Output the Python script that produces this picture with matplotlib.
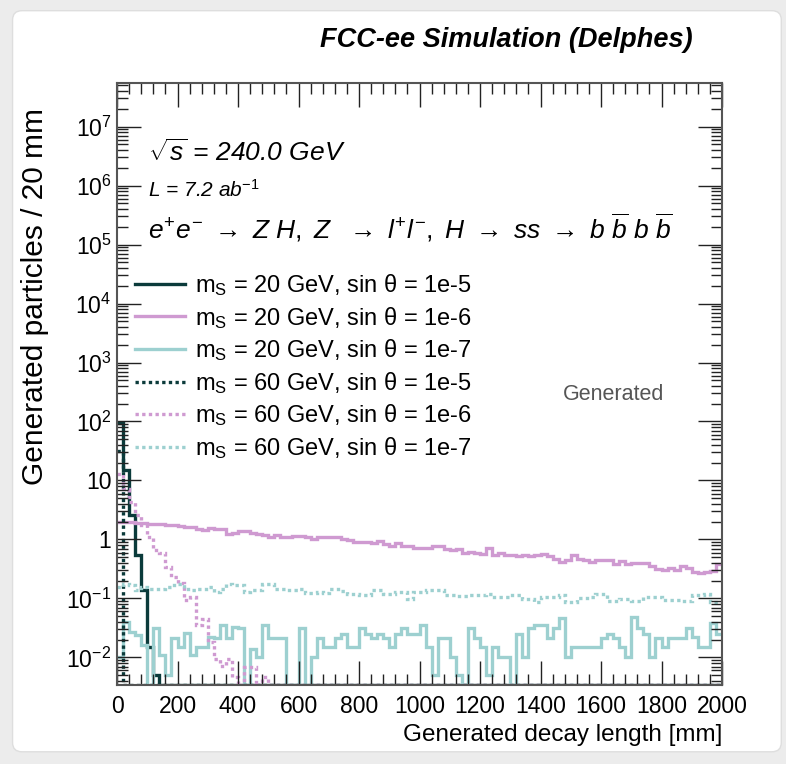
import numpy as np
import matplotlib
matplotlib.use('Agg')
import matplotlib.pyplot as plt
from matplotlib.patches import FancyBboxPatch
from matplotlib.ticker import LogLocator, FixedLocator, MultipleLocator, FuncFormatter, NullFormatter

plt.rcParams['font.family'] = ['Liberation Sans', 'DejaVu Sans']
plt.rcParams['mathtext.fontset'] = 'custom'
plt.rcParams['mathtext.rm'] = 'Liberation Sans'
plt.rcParams['mathtext.it'] = 'Liberation Sans:italic'
plt.rcParams['mathtext.bf'] = 'Liberation Sans:bold'

# decay length histogram, 20 mm bins from 0 to 2000 mm
bin_edges = np.arange(0, 2001, 20)

# m_S = 20 GeV, sin theta = 1e-5
ms20_s5 = [95, 14.8, 2.6, 0.55, 0.137, 0.0149, 0.005] + [0.0] * 93

# m_S = 20 GeV, sin theta = 1e-6
ms20_s6 = [1.95, 2.0, 1.95, 1.88, 1.88, 1.82, 1.82, 1.8, 1.78, 1.75,
           1.72, 1.62, 1.6, 1.48, 1.42, 1.55, 1.52, 1.5, 1.22, 1.3,
           1.38, 1.38, 1.3, 1.25, 1.2, 1.12, 1.2, 1.12, 1.12, 1.15,
           1.15, 1.12, 1.03, 1.08, 1.12, 1.1, 1.1, 1.0, 0.98, 0.92,
           0.92, 0.92, 0.88, 0.93, 0.85, 0.77, 0.88, 0.77, 0.77, 0.71,
           0.71, 0.71, 0.77, 0.77, 0.69, 0.65, 0.68, 0.59, 0.62, 0.6,
           0.57, 0.71, 0.55, 0.58, 0.55, 0.55, 0.52, 0.55, 0.52, 0.55,
           0.56, 0.53, 0.47, 0.41, 0.44, 0.55, 0.47, 0.45, 0.41, 0.44,
           0.44, 0.44, 0.38, 0.43, 0.39, 0.4, 0.4, 0.4, 0.35, 0.32,
           0.30, 0.33, 0.30, 0.35, 0.33, 0.28, 0.27, 0.28, 0.29, 0.39]

# m_S = 20 GeV, sin theta = 1e-7
ms20_s7 = [0.010, 0.040, 0.027, 0.024, 0.016, 0.0, 0.031, 0.011, 0.005, 0.021,
           0.015, 0.026, 0.011, 0.015, 0.015, 0.022, 0.021, 0.035, 0.021, 0.033,
           0.031, 0.0, 0.014, 0.010, 0.035, 0.021, 0.021, 0.021, 0.0, 0.0,
           0.031, 0.0, 0.010, 0.021, 0.015, 0.015, 0.021, 0.025, 0.015, 0.015,
           0.031, 0.025, 0.021, 0.025, 0.021, 0.015, 0.025, 0.031, 0.025, 0.025,
           0.035, 0.015, 0.005, 0.021, 0.021, 0.010, 0.005, 0.0, 0.031, 0.021,
           0.015, 0.005, 0.015, 0.010, 0.010, 0.0, 0.025, 0.010, 0.031, 0.035,
           0.035, 0.021, 0.031, 0.046, 0.010, 0.015, 0.015, 0.015, 0.015, 0.015,
           0.021, 0.025, 0.021, 0.015, 0.010, 0.048, 0.031, 0.025, 0.010, 0.021,
           0.015, 0.021, 0.021, 0.021, 0.031, 0.022, 0.015, 0.015, 0.038, 0.025]

# m_S = 60 GeV, sin theta = 1e-5
ms60_s5 = [31] + [0.0] * 99

# m_S = 60 GeV, sin theta = 1e-6
ms60_s6 = [13, 7.3, 4.3, 2.55, 1.73, 1.1, 0.65, 0.58, 0.34, 0.23,
           0.18, 0.093, 0.105, 0.035, 0.045, 0.018, 0.0095, 0.0071, 0.0093, 0.0047,
           0.0, 0.0068, 0.0068, 0.0, 0.0047] + [0.0] * 75

# m_S = 60 GeV, sin theta = 1e-7
ms60_s7 = [0.155, 0.177, 0.166, 0.137, 0.155, 0.146, 0.146, 0.146, 0.155, 0.166,
           0.177, 0.146, 0.137, 0.146, 0.146, 0.155, 0.128, 0.146, 0.177, 0.166,
           0.166, 0.128, 0.137, 0.137, 0.177, 0.177, 0.146, 0.146, 0.137, 0.137,
           0.146, 0.123, 0.123, 0.128, 0.123, 0.146, 0.146, 0.135, 0.12, 0.12,
           0.112, 0.112, 0.137, 0.137, 0.12, 0.12, 0.128, 0.128, 0.099, 0.128,
           0.128, 0.137, 0.137, 0.137, 0.112, 0.112, 0.108, 0.108, 0.112, 0.112,
           0.112, 0.12, 0.105, 0.105, 0.105, 0.112, 0.112, 0.099, 0.099, 0.087,
           0.105, 0.105, 0.105, 0.112, 0.087, 0.087, 0.103, 0.103, 0.105, 0.12,
           0.12, 0.092, 0.092, 0.099, 0.099, 0.09, 0.09, 0.105, 0.105, 0.105,
           0.095, 0.095, 0.095, 0.092, 0.092, 0.112, 0.112, 0.12, 0.087, 0.087]

series = [
    (ms20_s5, r'm$_{\mathrm{S}}$ = 20 GeV, sin θ = 1e-5', '#0b3b3b', '-'),
    (ms20_s6, r'm$_{\mathrm{S}}$ = 20 GeV, sin θ = 1e-6', '#cf9ad1', '-'),
    (ms20_s7, r'm$_{\mathrm{S}}$ = 20 GeV, sin θ = 1e-7', '#9dd0d0', '-'),
    (ms60_s5, r'm$_{\mathrm{S}}$ = 60 GeV, sin θ = 1e-5', '#0b3b3b', (0, (1, 1))),
    (ms60_s6, r'm$_{\mathrm{S}}$ = 60 GeV, sin θ = 1e-6', '#cf9ad1', (0, (1, 1))),
    (ms60_s7, r'm$_{\mathrm{S}}$ = 60 GeV, sin θ = 1e-7', '#9dd0d0', (0, (1, 1))),
]

ymin, ymax = 0.0034, 5.5e7
decades = 10.0 ** np.arange(-2, 8)

fig = plt.figure(figsize=(7.86, 7.64), dpi=100)
fig.patch.set_facecolor('#ececec')
# card look of the original screenshot
card = FancyBboxPatch((0.016, 0.016), 0.978, 0.97, boxstyle='round,pad=0,rounding_size=0.012',
                      transform=fig.transFigure, facecolor='white', edgecolor='#dedede', zorder=-1)
fig.add_artist(card)

ax = fig.add_axes([0.1489, 0.1034, 0.7697, 0.788])
ax.set_facecolor('none')

for vals, label, col, ls in series:
    v = np.clip(np.asarray(vals, dtype=float), ymin, None)
    ax.stairs(v, bin_edges, baseline=None, color=col, linestyle=ls, linewidth=2.4, label=label)

ax.set_yscale('log')
ax.set_xlim(0, 2000)
ax.set_ylim(ymin, ymax)

ax.xaxis.set_major_locator(MultipleLocator(200))
ax.xaxis.set_minor_locator(MultipleLocator(40))
ax.yaxis.set_major_locator(FixedLocator(decades))
ax.yaxis.set_minor_locator(LogLocator(base=10, subs=np.arange(2, 10), numticks=100))
ax.yaxis.set_minor_formatter(NullFormatter())


def yfmt(v, pos):
    e = int(round(np.log10(v)))
    if e == 0:
        return '1'
    if e == 1:
        return '10'
    return r'$10^{%d}$' % e


ax.yaxis.set_major_formatter(FuncFormatter(yfmt))
ax.tick_params(which='both', direction='in', top=True, right=True, colors='#222222', labelcolor='black')
ax.tick_params(which='major', length=17, width=1.0, labelsize=16.5)
ax.tick_params(which='minor', length=8, width=1.0)
ax.tick_params(axis='x', which='major', pad=7.5)
ax.tick_params(axis='y', which='major', pad=4)
for s in ax.spines.values():
    s.set_color('#555555')
    s.set_linewidth(1.5)

ax.set_xlabel('Generated decay length [mm]', fontsize=17.5, loc='right')
ax.set_ylabel('Generated particles / 20 mm', fontsize=21.5, loc='top')
ax.yaxis.set_label_coords(-0.112, 0.958)

ax.text(0.051, 0.884, r'$\sqrt{s}$ = 240.0 GeV', transform=ax.transAxes, fontsize=19,
        style='italic', va='center', ha='left')
ax.text(0.051, 0.822, r'L = 7.2 ab$^{-1}$', transform=ax.transAxes, fontsize=15,
        style='italic', va='center', ha='left')
ax.text(0.051, 0.759,
        r'$e^{+}e^{-}\ \rightarrow\ Z\ H,\ Z\ \ \rightarrow\ l^{+}l^{-},\ H\ \rightarrow\ ss\ \rightarrow\ b\ \overline{b}\ b\ \overline{b}$',
        transform=ax.transAxes, fontsize=19, va='center', ha='left')
ax.text(0.821, 0.482, 'Generated', transform=ax.transAxes, fontsize=15.5, color='#555555',
        va='center', ha='center')

ax.legend(loc='upper left', bbox_to_anchor=(0.03, 0.686), frameon=False, fontsize=17,
          handlelength=2.1, handletextpad=0.45, labelspacing=0.285, borderpad=0, borderaxespad=0)

fig.text(0.644, 0.948, 'FCC-ee Simulation (Delphes)', fontsize=19.5, fontweight='bold',
         style='italic', ha='center', va='center')

fig.savefig('out.png', dpi=100, facecolor=fig.get_facecolor())
